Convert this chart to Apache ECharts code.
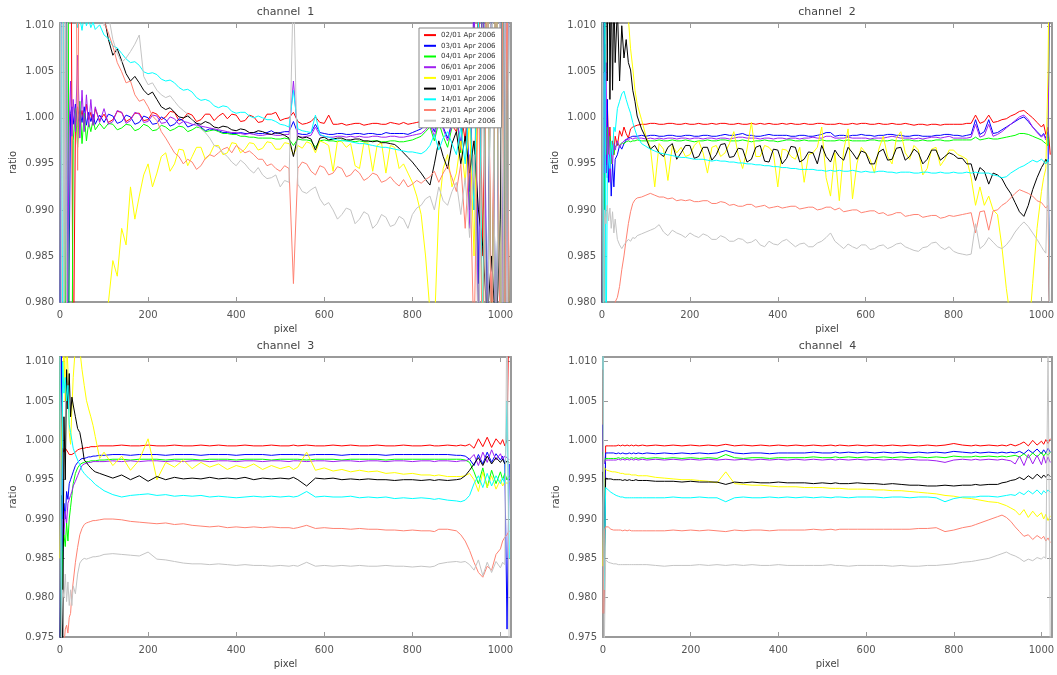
<!DOCTYPE html>
<html>
<head>
<meta charset="utf-8">
<script src="https://cdn.jsdelivr.net/npm/echarts/dist/echarts.min.js"></script>
<style>
html,body{margin:0;padding:0;background:#fff}
#chart{width:1057px;height:675px}
</style>
</head>
<body>
<div id="chart"></div>
<script>
// Detector pixel positions (finer sampling for the noisier channels 1 and 2)
const PIXEL_FINE = [0,3,6,9,12,15,18,21,24,27, 30,35,40,45,50,55,60,65,70,75,
  80,90,100,110,120,130,140,150,160,170, 180,190,200,210,220,230,240,250,260,270,
  280,290,300,310,320,330,340,350,360,370, 380,390,400,410,420,430,440,450,460,470,
  480,490,500,510,520,530,540,550,560,570, 580,590,600,610,620,630,640,650,660,670,
  680,690,700,710,720,730,740,750,760,770, 780,790,800,810,820,830,840,850,860,870,
  880,890,900,910,920,930,940,950,960,970, 980,990,1000,1005,1010,1015,1020];
const PIXEL = [0,3,6,9,12,15,18,21,24,27, 30,35,40,45,50,55,60,65,70,75,
  80,90,100,120,140,160,180,200,220,240, 260,280,300,320,340,360,380,400,420,440,
  460,480,500,520,530,540,560,580,600,620, 640,660,680,700,720,740,760,780,800,820,
  840,850,860,880,900,910,920,930,940,950, 960,970,980,990,1000,1005,1010,1015,1020];

const DATES = ['02/01 Apr 2006','03/01 Apr 2006','04/01 Apr 2006','06/01 Apr 2006',
  '09/01 Apr 2006','10/01 Apr 2006','14/01 Apr 2006','21/01 Apr 2006','28/01 Apr 2006'];

const CHANNEL_TITLES = ['channel  1','channel  2','channel  3','channel  4'];
const X_TICKS = [0,200,400,600,800,1000];
const Y_TICKS_TOP = [0.980,0.985,0.990,0.995,1.000,1.005,1.010];
const Y_TICKS_BOTTOM = [0.975,0.980,0.985,0.990,0.995,1.000,1.005,1.010];

// ---- channel 1 (sampled at PIXEL_FINE) ----
const c1_02 = [1.03,1.03,1.03,1.03,1.03,1.03,1.03,1.03,1.03,1.03,
 .97,.9995,1.0012,.9996,1.0008,.9993,1.0015,.9998,1.0006,.9992,
 1.0010,.9997,1.0004,.9995,.9998,1.0007,1.0006,.9996,.9999,1.0005,
 1.0005,.9997,.9998,1.0006,1.0004,.9998,1.0001,1.0007,1.0006,.9997,
 .9999,1.0005,1.0003,.9996,.9998,1.0004,1.0004,.9997,1.0002,1.0005,
 .9999,1.0004,1.0003,.9996,.9997,1.0003,1.0001,.9995,.9996,1.0004,
 1.0004,1.0006,.9997,.9999,1.0000,1.0006,.9996,.9993,.9994,.9996,
 1.0001,.9995,.9994,1.0003,.9993,.9993,.9994,.9992,.9993,.9994,
 .9994,.9992,.9993,.9994,.9994,.9993,.9993,.9995,.9994,.9993,
 .9995,.9993,.9994,.9995,.9996,.9995,.9998,1.0001,.9996,.9999,
 1.0005,.9992,.9985,1.0008,.9975,1.004,.990,1.015,.985,1.02,
 .975,1.02,.97,1.02,.97,1.03,.97];
const c1_03 = [.97,1.03,1.03,1.03,1.03,1.03,.97,.97,1.0005,1.0012,
 .9993,1.0015,.9990,1.0008,.9995,1.0012,.9992,1.0006,.9996,1.0004,
 .9993,1.0003,.9995,1.0004,1.0002,.9994,.9996,1.0003,1.0001,.9993,
 .9995,1.0002,1.0000,.9993,.9994,1.0001,.9998,.9991,.9993,.9999,
 .9997,.9990,.9992,.9994,.9990,.9986,.9988,.9987,.9986,.9984,
 .9984,.9983,.9983,.9984,.9983,.9983,.9984,.9983,.9983,.9984,
 .9986,.9983,.9984,.9985,.9985,.9996,.9983,.9982,.9982,.9984,
 .9993,.9984,.9983,.9982,.9982,.9983,.9983,.9982,.9982,.9983,
 .9983,.9982,.9983,.9983,.9982,.9982,.9984,.9983,.9983,.9983,
 .9983,.9982,.9984,.9986,.9988,.9992,.9996,.9985,1.0002,.9990,
 .9978,.9995,1.0004,.9970,1.006,.992,1.012,.982,1.02,.975,
 1.02,.97,1.02,.97,1.02,.97,1.03];
const c1_04 = [1.03,1.03,1.03,1.03,.97,.97,1.03,.97,.97,.97,
 .9975,1.0010,.9968,1.0018,.9972,1.0005,.9975,.9995,.9985,.9998,
 .9987,.9994,.9988,.9994,.9993,.9987,.9989,.9993,.9992,.9986,
 .9988,.9993,.9991,.9986,.9987,.9992,.9990,.9986,.9988,.9991,
 .9990,.9985,.9987,.9990,.9989,.9985,.9986,.9987,.9985,.9983,
 .9983,.9982,.9982,.9980,.9980,.9979,.9979,.9978,.9978,.9978,
 .9978,.9977,.9977,.9978,.9977,.9970,.9977,.9976,.9976,.9975,
 .9968,.9975,.9976,.9975,.9975,.9974,.9976,.9975,.9975,.9974,
 .9975,.9974,.9974,.9975,.9975,.9974,.9974,.9975,.9975,.9974,
 .9974,.9975,.9976,.9978,.9980,.9985,.9990,.9975,.9995,.9980,
 .9968,.9990,1.0002,.9962,1.003,.990,1.01,.975,1.02,.97,
 1.02,.97,1.02,.97,1.02,.97,1.02];
const c1_06 = [1.03,1.03,1.03,1.03,1.03,.97,.97,.999,1.004,.998,
 1.002,.9985,1.0068,.9978,1.0030,.9985,1.0025,.9990,1.0020,.9992,
 1.0012,.9995,1.0010,.9993,.9996,1.0008,1.0006,.9994,.9997,1.0006,
 1.0004,.9995,.9996,1.0003,1.0002,.9994,.9995,1.0001,.9999,.9993,
 .9996,.9995,.9993,.9992,.9991,.9990,.9989,.9988,.9987,.9986,
 .9985,.9984,.9984,.9983,.9982,.9983,.9982,.9981,.9981,.9982,
 .9982,.9981,.9981,.9982,.9982,1.0040,.9980,.9979,.9980,.9981,
 .9990,.9981,.9980,.9979,.9979,.9980,.9980,.9979,.9980,.9979,
 .9980,.9979,.9979,.9980,.9980,.9979,.9979,.9980,.9980,.9979,
 .9979,.9980,.9981,.9982,.9983,.9987,.9993,.9980,1.0000,.9988,
 .9975,.9992,1.0006,.9965,1.005,.988,1.015,.975,1.02,.97,
 1.02,.97,1.02,.975,1.02,.97,1.02];
const c1_09 = [.975,.975,.975,.975,.975,.975,.975,.975,.975,.975,
 .975,.975,.975,.975,.975,.975,.975,.975,.975,.975,
 .975,.975,.9785,.9800,.9845,.9828,.9880,.9862,.9925,.9890,
 .9915,.9938,.9950,.9925,.9940,.9958,.9962,.9942,.9950,.9966,
 .9965,.9948,.9958,.9968,.9968,.9955,.9960,.9970,.9970,.9960,
 .9962,.9973,.9972,.9962,.9966,.9973,.9972,.9965,.9967,.9974,
 .9973,.9966,.9966,.9973,.9972,.9960,.9970,.9967,.9974,.9972,
 .9962,.9975,.9973,.9970,.9942,.9975,.9974,.9968,.9972,.9948,
 .9945,.9973,.9972,.9942,.9970,.9973,.9940,.9970,.9968,.9945,
 .9950,.9940,.9930,.9915,.9895,.9850,.9790,.9770,.9900,.9945,
 .9960,.9925,.9940,.9975,.9930,1.000,.985,1.008,.975,1.02,
 .97,1.02,.97,1.02,.97,1.02,.97];
const c1_10 = [1.03,1.03,1.03,1.03,1.03,1.03,1.03,1.03,1.03,1.03,
 1.03,1.03,1.03,1.03,1.03,1.03,1.03,1.03,1.03,1.03,
 1.03,1.03,1.0110,1.0085,1.0068,1.0075,1.0062,1.0048,1.0040,1.0045,
 1.0038,1.0030,1.0025,1.0028,1.0020,1.0012,1.0009,1.0011,1.0006,1.0001,
 1.0000,1.0002,.9998,.9994,.9993,.9996,.9994,.9990,.9989,.9991,
 .9990,.9987,.9986,.9988,.9987,.9984,.9984,.9986,.9985,.9983,
 .9982,.9984,.9983,.9981,.9978,.9958,.9980,.9978,.9979,.9977,
 .9965,.9978,.9979,.9976,.9977,.9978,.9978,.9976,.9976,.9977,
 .9977,.9975,.9975,.9974,.9975,.9973,.9973,.9972,.9971,.9967,
 .9962,.9957,.9952,.9946,.9940,.9933,.9927,.9950,.9975,.9958,
 .9945,.9972,.9985,.9950,.9980,.9940,.9975,.9900,.9860,.9780,
 .9850,.9760,.9890,1.02,.97,1.02,.97];
const c1_14 = [1.03,1.03,.97,1.03,1.03,1.03,1.03,1.03,1.03,1.03,
 1.03,1.0115,1.0098,1.0108,1.0095,1.0112,1.0100,1.0108,1.0098,1.0104,
 1.0096,1.0101,1.0090,1.0086,1.0078,1.0076,1.0070,1.0064,1.0060,1.0061,
 1.0057,1.0050,1.0048,1.0049,1.0047,1.0042,1.0040,1.0041,1.0038,1.0033,
 1.0030,1.0031,1.0028,1.0022,1.0019,1.0020,1.0018,1.0013,1.0011,1.0013,
 1.0012,1.0007,1.0005,1.0006,1.0006,1.0002,1.0000,1.0002,1.0000,.9998,
 .9998,.9996,.9993,.9992,.9990,1.0030,.9988,.9986,.9985,.9984,
 1.0003,.9982,.9980,.9979,.9977,.9976,.9975,.9975,.9974,.9973,
 .9972,.9972,.9971,.9970,.9969,.9968,.9968,.9967,.9966,.9965,
 .9964,.9963,.9963,.9962,.9961,.9964,.9970,.9982,.9965,.9978,
 .9985,.9972,.9960,.9990,.9950,1.0020,.9900,1.012,.975,1.02,
 .97,1.02,.97,1.02,.97,1.02,.97];
const c1_21 = [1.03,1.03,1.03,1.03,1.03,1.03,1.03,1.03,1.03,1.03,
 1.03,1.03,.9943,1.03,1.03,1.03,1.03,1.03,1.03,1.03,
 1.03,1.03,1.0105,1.0092,1.0078,1.0060,1.0050,1.0038,1.0040,1.0025,
 1.0018,1.0020,1.0012,1.0002,.9997,.9985,.9978,.9970,.9962,.9958,
 .9950,.9955,.9952,.9944,.9948,.9956,.9960,.9958,.9962,.9966,
 .9968,.9962,.9970,.9966,.9962,.9964,.9960,.9955,.9955,.9948,
 .9950,.9945,.9942,.9948,.9945,.9820,.9945,.9952,.9950,.9942,
 .9938,.9948,.9946,.9938,.9940,.9947,.9945,.9936,.9938,.9944,
 .9940,.9932,.9935,.9940,.9938,.9930,.9932,.9936,.9930,.9926,
 .9933,.9925,.9928,.9932,.9929,.9933,.9936,.9942,.9930,.9940,
 .9948,.9935,.9920,.9950,.9880,.9960,.975,1.005,.97,1.02,
 .97,1.02,.97,1.015,.97,1.02,.97];
const c1_28 = [1.03,.97,1.03,.97,1.03,.97,1.03,1.03,1.03,1.03,
 1.03,1.03,1.03,1.03,1.03,1.03,1.03,1.03,1.03,1.03,
 1.03,1.03,1.0100,1.0112,1.0085,1.0070,1.0060,1.0065,1.0072,1.0080,
 1.0090,1.0045,1.0036,1.0038,1.0030,1.0025,1.0022,1.0024,1.0018,1.0012,
 1.0008,1.0004,.9998,.9992,.9988,.9984,.9978,.9970,.9968,.9962,
 .9958,.9952,.9948,.9954,.9950,.9944,.9940,.9946,.9938,.9934,
 .9935,.9938,.9925,.9932,.9930,1.0150,.9928,.9920,.9918,.9922,
 .9925,.9912,.9905,.9908,.9900,.9890,.9895,.9902,.9900,.9885,
 .9890,.9898,.9895,.9880,.9885,.9895,.9892,.9882,.9884,.9893,
 .9890,.9880,.9895,.9902,.9905,.9912,.9915,.9900,.9925,.9910,
 .9905,.9920,.9930,.9895,.9935,.9870,.9960,.975,1.005,.97,
 1.02,.97,1.02,.97,1.02,.97,1.02];

// ---- channel 2 (sampled at PIXEL_FINE) ----
const c2_02 = [1.03,.97,1.005,.995,1.002,.9965,.9990,.9958,.9975,.9960,
 .9980,.9970,.9986,.9980,.9990,.9983,.9978,.9988,.9990,.9991,
 .9992,.9993,.9993,.9994,.9994,.9993,.9993,.9994,.9994,.9993,
 .9993,.9994,.9993,.9993,.9994,.9993,.9993,.9994,.9993,.9994,
 .9994,.9993,.9993,.9994,.9993,.9993,.9994,.9993,.9994,.9993,
 .9994,.9993,.9993,.9994,.9993,.9994,.9993,.9993,.9994,.9993,
 .9993,.9994,.9994,.9993,.9993,.9993,.9994,.9993,.9993,.9994,
 .9993,.9994,.9994,.9993,.9993,.9994,.9993,.9993,.9994,.9993,
 .9993,.9994,.9993,.9992,.9993,.9993,.9992,.9993,.9993,.9992,
 .9993,.9993,.9993,.9993,.9993,.9994,.9994,1.0003,.9994,.9996,
 1.0003,.9995,.9996,.9998,.9999,1.0002,1.0004,1.0007,1.0008,1.0004,
 1.0000,.9995,.9990,.9993,.9982,.9990,.9960];
const c2_03 = [1.03,.97,1.008,.994,1.002,.9930,.9960,.9915,.9950,.9925,
 .9955,.9960,.9970,.9966,.9972,.9976,.9978,.9979,.9980,.9980,
 .9980,.9981,.9980,.9981,.9981,.9980,.9980,.9981,.9981,.9980,
 .9980,.9981,.9981,.9980,.9980,.9981,.9981,.9980,.9980,.9981,
 .9982,.9981,.9981,.9982,.9983,.9981,.9981,.9980,.9980,.9981,
 .9982,.9981,.9981,.9981,.9981,.9980,.9980,.9981,.9981,.9980,
 .9980,.9981,.9982,.9984,.9984,.9980,.9981,.9981,.9980,.9981,
 .9981,.9982,.9981,.9981,.9980,.9981,.9981,.9982,.9982,.9981,
 .9981,.9980,.9980,.9981,.9981,.9980,.9980,.9980,.9981,.9981,
 .9982,.9982,.9981,.9981,.9980,.9981,.9982,.9998,.9982,.9985,
 .9998,.9983,.9984,.9987,.9990,.9993,.9996,.9999,1.0001,.9996,
 .9990,.9985,.9980,.9983,.9978,.9985,.97];
const c2_04 = [1.03,.97,1.004,.996,.9990,.9960,.9980,.9950,.9970,.9960,
 .9968,.9972,.9970,.9973,.9972,.9974,.9975,.9974,.9975,.9975,
 .9976,.9975,.9975,.9975,.9975,.9976,.9975,.9975,.9976,.9975,
 .9975,.9976,.9975,.9974,.9975,.9975,.9976,.9975,.9975,.9976,
 .9976,.9975,.9975,.9975,.9976,.9975,.9974,.9975,.9975,.9976,
 .9975,.9975,.9974,.9975,.9976,.9976,.9975,.9975,.9976,.9975,
 .9975,.9975,.9976,.9975,.9975,.9975,.9976,.9975,.9976,.9975,
 .9975,.9975,.9975,.9976,.9976,.9975,.9975,.9975,.9976,.9975,
 .9975,.9976,.9976,.9975,.9975,.9976,.9975,.9975,.9976,.9976,
 .9975,.9975,.9976,.9976,.9976,.9976,.9976,.9979,.9976,.9977,
 .9978,.9977,.9977,.9978,.9979,.9980,.9981,.9983,.9983,.9982,
 .9980,.9978,.9976,.9974,.9972,.9970,1.02];
const c2_06 = [.97,1.03,.994,1.006,.9935,.9990,.9930,.9965,.9950,.9972,
 .9965,.9975,.9968,.9972,.9975,.9977,.9976,.9978,.9977,.9978,
 .9978,.9978,.9977,.9978,.9977,.9978,.9977,.9978,.9978,.9977,
 .9978,.9978,.9977,.9978,.9978,.9977,.9978,.9978,.9977,.9978,
 .9978,.9977,.9978,.9979,.9979,.9978,.9978,.9978,.9977,.9978,
 .9978,.9977,.9978,.9978,.9977,.9978,.9978,.9977,.9978,.9978,
 .9979,.9978,.9978,.9980,.9980,.9978,.9978,.9978,.9979,.9978,
 .9978,.9978,.9978,.9977,.9978,.9978,.9978,.9979,.9980,.9979,
 .9978,.9978,.9978,.9977,.9978,.9977,.9978,.9979,.9979,.9978,
 .9979,.9980,.9978,.9978,.9978,.9978,.9979,.9993,.9979,.9981,
 .9993,.9980,.9982,.9985,.9989,.9993,.9997,1.0001,1.0003,.9998,
 .9990,.9984,.9979,.9982,.9976,.9980,1.02];
const c2_09 = [1.03,1.03,1.03,1.03,1.03,1.03,1.03,1.03,1.03,1.03,
 1.03,1.03,1.03,1.03,1.0150,1.0120,1.0108,1.0075,1.0054,1.0030,
 1.0015,.9998,.9980,.9968,.9925,.9972,.9966,.9932,.9970,.9962,
 .9968,.9958,.9960,.9970,.9975,.9962,.9940,.9968,.9970,.9958,
 .9962,.9972,.9985,.9960,.9945,.9966,.9995,.9958,.9958,.9970,
 .9968,.9962,.9925,.9966,.9965,.9958,.9955,.9968,.9930,.9960,
 .9962,.9968,.9990,.9935,.9915,.9962,.9910,.9965,.9988,.9912,
 .9950,.9968,.9962,.9955,.9940,.9966,.9980,.9958,.9950,.9978,
 .9985,.9962,.9955,.9970,.9965,.9938,.9945,.9966,.9968,.9948,
 .9955,.9965,.9965,.9960,.9958,.9955,.9935,.9905,.9925,.9905,
 .9915,.9900,.9895,.9860,.9815,.9780,.975,.97,.97,.9760,
 .9820,.9880,.9920,.9935,.9945,1.005,1.03];
const c2_10 = [.97,1.03,1.005,1.03,1.004,1.03,1.002,1.015,1.003,1.014,
 1.006,1.012,1.004,1.010,1.0065,1.0085,1.0060,1.0052,1.0030,1.0018,
 1.0002,.9988,.9978,.9966,.9970,.9962,.9958,.9968,.9972,.9955,
 .9962,.9970,.9970,.9956,.9958,.9968,.9968,.9954,.9960,.9971,
 .9972,.9957,.9958,.9967,.9966,.9952,.9955,.9968,.9970,.9953,
 .9952,.9966,.9965,.9950,.9956,.9969,.9968,.9952,.9955,.9963,
 .9962,.9950,.9970,.9958,.9952,.9965,.9958,.9954,.9968,.9962,
 .9955,.9964,.9962,.9950,.9950,.9963,.9966,.9954,.9955,.9967,
 .9968,.9954,.9958,.9966,.9962,.9950,.9955,.9965,.9965,.9954,
 .9958,.9962,.9960,.9956,.9956,.9950,.9950,.9932,.9946,.9942,
 .9928,.9940,.9938,.9934,.9925,.9918,.9908,.9898,.9893,.9905,
 .9922,.9935,.9946,.9950,.9955,.9950,.97];
const c2_14 = [1.03,.97,1.03,.97,.9935,.9960,.9945,.9975,.9960,.9990,
 .9985,1.0010,1.0018,1.0026,1.0029,1.0020,1.0012,1.0005,.9995,.9987,
 .9980,.9972,.9969,.9966,.9964,.9962,.9961,.9960,.9959,.9958,
 .9957,.9957,.9956,.9955,.9955,.9955,.9954,.9953,.9954,.9953,
 .9953,.9952,.9952,.9951,.9951,.9950,.9950,.9949,.9949,.9948,
 .9948,.9947,.9947,.9946,.9946,.9945,.9945,.9944,.9944,.9944,
 .9944,.9943,.9943,.9942,.9943,.9942,.9943,.9942,.9942,.9943,
 .9942,.9941,.9942,.9941,.9941,.9942,.9942,.9941,.9941,.9940,
 .9941,.9941,.9941,.9940,.9940,.9941,.9941,.9940,.9940,.9941,
 .9940,.9940,.9941,.9940,.9940,.9941,.9940,.9941,.9940,.9940,
 .9940,.9938,.9937,.9935,.9936,.9940,.9943,.9946,.9948,.9951,
 .9954,.9952,.9955,.9953,.9950,.9955,.97];
const c2_21 = [.97,.97,.97,.97,.97,.97,.97,.9760,.9790,.9770,
 .9800,.9805,.9817,.9835,.9850,.9868,.9885,.9898,.9907,.9911,
 .9913,.9914,.9916,.9918,.9916,.9914,.9914,.9912,.9913,.9910,
 .9911,.9910,.9911,.9909,.9909,.9910,.9910,.9907,.9907,.9909,
 .9908,.9905,.9906,.9904,.9904,.9906,.9906,.9903,.9904,.9905,
 .9902,.9903,.9904,.9902,.9903,.9904,.9904,.9901,.9902,.9903,
 .9903,.9900,.9901,.9903,.9903,.9900,.9902,.9898,.9899,.9900,
 .9900,.9897,.9898,.9899,.9899,.9896,.9897,.9894,.9895,.9897,
 .9897,.9893,.9894,.9895,.9895,.9892,.9893,.9894,.9894,.9891,
 .9892,.9894,.9893,.9894,.9895,.9896,.9897,.9875,.9898,.9899,
 .9878,.9899,.9900,.9905,.9908,.9913,.9918,.9922,.9920,.9918,
 .9915,.9910,.9908,.9905,.9902,.9905,.97];
const c2_28 = [1.03,.97,.9900,.9885,.9905,.9888,.9902,.9880,.9898,.9875,
 .9890,.9868,.9862,.9858,.9862,.9865,.9868,.9866,.9870,.9869,
 .9872,.9874,.9876,.9878,.9880,.9884,.9876,.9872,.9878,.9875,
 .9873,.9870,.9875,.9872,.9870,.9874,.9872,.9868,.9868,.9872,
 .9870,.9866,.9866,.9869,.9868,.9864,.9865,.9868,.9862,.9860,
 .9866,.9863,.9862,.9866,.9868,.9864,.9860,.9863,.9864,.9860,
 .9860,.9864,.9866,.9870,.9875,.9866,.9862,.9858,.9863,.9860,
 .9858,.9862,.9862,.9857,.9858,.9861,.9862,.9858,.9860,.9863,
 .9864,.9860,.9858,.9856,.9855,.9859,.9860,.9864,.9865,.9860,
 .9857,.9860,.9855,.9853,.9852,.9851,.9852,.9885,.9858,.9862,
 .9870,.9865,.9860,.9858,.9862,.9868,.9876,.9882,.9887,.9882,
 .9875,.9868,.9860,.9856,.9853,.9952,.975];

// ---- channel 3 (sampled at PIXEL) ----
const c3_02 = [1.012,.9950,.9990,.9985,.9990,.9988,.9985,.9982,.9980,.9982,
 .9981,.9985,.9988,.9989,.9990,.9990,.9991,.9991,.9992,.9992,
 .9992,.9993,.9993,.9993,.9994,.9993,.9993,.9994,.9993,.9993,
 .9994,.9993,.9993,.9994,.9993,.9994,.9993,.9993,.9994,.9993,
 .9993,.9994,.9993,.9993,.9994,.9993,.9994,.9993,.9993,.9994,
 .9993,.9994,.9993,.9993,.9994,.9993,.9993,.9994,.9993,.9993,
 .9994,.9993,.9993,.9994,.9993,.9994,.9993,.9995,.9990,1.0002,
 .9992,1.0004,.9991,1.0002,.9995,1.0001,.9993,1.0000,1.02];
const c3_03 = [.97,1.012,.985,.992,.990,.9935,.9925,.9945,.9950,.9955,
 .9960,.9968,.9972,.9975,.9977,.9977,.9978,.9979,.9979,.9980,
 .9980,.9981,.9981,.9982,.9982,.9981,.9982,.9982,.9982,.9981,
 .9982,.9982,.9982,.9981,.9982,.9982,.9982,.9981,.9982,.9982,
 .9982,.9981,.9982,.9982,.9982,.9982,.9981,.9982,.9982,.9982,
 .9981,.9982,.9982,.9982,.9982,.9981,.9982,.9982,.9982,.9982,
 .9982,.9982,.9982,.9982,.9981,.9981,.9980,.9976,.9968,.9982,
 .9970,.9985,.9972,.9983,.9975,.9980,.9970,.9760,.9970];
const c3_04 = [1.012,.975,.9860,.9880,.9865,.9895,.9872,.9900,.9915,.9930,
 .9945,.9958,.9965,.9969,.9971,.9972,.9973,.9973,.9974,.9974,
 .9974,.9975,.9975,.9976,.9976,.9975,.9976,.9976,.9976,.9975,
 .9976,.9976,.9976,.9975,.9976,.9976,.9976,.9975,.9976,.9976,
 .9976,.9975,.9976,.9976,.9976,.9976,.9975,.9976,.9976,.9976,
 .9975,.9976,.9976,.9976,.9976,.9975,.9976,.9976,.9976,.9976,
 .9976,.9976,.9976,.9976,.9976,.9976,.9975,.9972,.9960,.9945,
 .9965,.9940,.9962,.9945,.9960,.9950,.9958,.9950,.9955];
const c3_06 = [1.02,.9850,.9900,.9880,.9910,.9895,.9920,.9918,.9930,.9935,
 .9942,.9948,.9955,.9962,.9968,.9970,.9971,.9972,.9972,.9973,
 .9973,.9973,.9973,.9974,.9973,.9974,.9973,.9974,.9974,.9973,
 .9974,.9973,.9974,.9974,.9973,.9974,.9974,.9973,.9974,.9974,
 .9973,.9974,.9974,.9973,.9974,.9974,.9973,.9974,.9974,.9973,
 .9974,.9974,.9973,.9974,.9974,.9973,.9974,.9974,.9973,.9974,
 .9974,.9973,.9974,.9974,.9973,.9974,.9974,.9976,.9982,.9968,
 .9985,.9972,.9988,.9975,.9983,.9976,.9980,.9978,.9975];
const c3_09 = [.9850,.9980,1.0080,1.0120,1.0050,1.0130,1.0090,1.0010,.9995,1.0040,
 1.0080,1.0120,1.0130,1.0115,1.0090,1.0070,1.0051,1.0040,1.0030,1.0019,
 1.0005,.9977,.9985,.9968,.9980,.9962,.9975,1.0002,.9950,.9972,
 .9966,.9975,.9964,.9972,.9966,.9970,.9963,.9968,.9965,.9970,
 .9963,.9968,.9964,.9967,.9963,.9966,.9985,.9962,.9965,.9961,
 .9963,.9960,.9962,.9960,.9961,.9958,.9959,.9957,.9958,.9956,
 .9956,.9955,.9956,.9954,.9954,.9954,.9955,.9958,.9950,.9935,
 .9960,.9940,.9955,.9938,.9950,.9942,.9948,.9945,.9948];
const c3_10 = [.970,.9930,.970,1.0030,.9950,1.0090,1.0040,1.0085,1.0030,1.0055,
 1.0045,1.0030,1.0015,1.0010,.9995,.9975,.9972,.9968,.9965,.9962,
 .9960,.9958,.9956,.9952,.9956,.9950,.9955,.9948,.9954,.9950,
 .9953,.9951,.9952,.9951,.9953,.9951,.9952,.9951,.9953,.9950,
 .9952,.9951,.9952,.9951,.9953,.9950,.9942,.9952,.9951,.9952,
 .9950,.9951,.9950,.9951,.9950,.9950,.9949,.9950,.9950,.9949,
 .9950,.9949,.9950,.9949,.9950,.9951,.9955,.9962,.9970,.9978,
 .9968,.9980,.9970,.9978,.9972,.9976,.9970,.9974,.9972];
const c3_14 = [1.012,.975,1.010,1.0060,1.0080,1.0050,1.0070,1.0020,1.0010,1.0000,
 .9990,.9982,.9975,.9969,.9962,.9958,.9955,.9952,.9950,.9947,
 .9944,.9940,.9936,.9931,.9928,.9930,.9931,.9932,.9930,.9931,
 .9929,.9930,.9929,.9930,.9928,.9929,.9928,.9927,.9928,.9929,
 .9928,.9929,.9928,.9929,.9928,.9929,.9935,.9928,.9929,.9928,
 .9928,.9929,.9927,.9928,.9927,.9928,.9926,.9927,.9926,.9927,
 .9926,.9925,.9926,.9924,.9923,.9922,.9924,.9930,.9945,.9955,
 .9940,.9958,.9942,.9955,.9945,.9952,.9945,1.005,.985];
const c3_21 = [.970,.970,.972,.974,.976,.9765,.9755,.9775,.9780,.9805,
 .9820,.9845,.9864,.9880,.9888,.9893,.9895,.9896,.9897,.9898,
 .9898,.9899,.9900,.9900,.9899,.9897,.9896,.9895,.9894,.9895,
 .9893,.9894,.9892,.9891,.9890,.9891,.9889,.9890,.9889,.9890,
 .9889,.9890,.9889,.9889,.9888,.9889,.9892,.9888,.9889,.9888,
 .9888,.9887,.9888,.9887,.9887,.9886,.9886,.9885,.9886,.9885,
 .9885,.9884,.9887,.9887,.9885,.9880,.9872,.9860,.9845,.9832,
 .9826,.9840,.9835,.9855,.9862,.9872,.9877,.9880,.9885];
const c3_28 = [1.012,.975,.9810,.9800,.9830,.9795,.9820,.9790,.9810,.9790,
 .9815,.9805,.9830,.9844,.9848,.9850,.9849,.9850,.9851,.9852,
 .9852,.9853,.9855,.9856,.9855,.9854,.9853,.9858,.9849,.9848,
 .9846,.9844,.9843,.9843,.9842,.9843,.9842,.9841,.9842,.9841,
 .9841,.9840,.9841,.9840,.9841,.9840,.9845,.9840,.9841,.9840,
 .9841,.9840,.9841,.9840,.9840,.9841,.9840,.9840,.9839,.9840,
 .9839,.9840,.9843,.9845,.9846,.9845,.9846,.9842,.9835,.9848,
 .9828,.9845,.9832,.9846,.9838,.9845,.9842,1.02,.97];

// ---- channel 4 (sampled at PIXEL) ----
const c4_02 = [1.009,.978,.9993,.9994,.9993,.9994,.9993,.9994,.9993,.9994,
 .9993,.9994,.9993,.9994,.9993,.9994,.9993,.9994,.9993,.9994,
 .9993,.9994,.9993,.9994,.9993,.9994,.9993,.9994,.9993,.9994,
 .9993,.9995,.9993,.9994,.9993,.9994,.9993,.9994,.9993,.9994,
 .9993,.9994,.9993,.9994,.9993,.9994,.9993,.9994,.9993,.9994,
 .9993,.9994,.9993,.9994,.9993,.9994,.9993,.9994,.9996,.9994,
 .9993,.9994,.9993,.9994,.9993,.9994,.9993,.9995,.9993,.9995,
 .9998,.9993,1.0000,.9994,.9999,.9995,1.0001,.9996,1.0002];
const c4_03 = [1.002,.986,.9984,.9983,.9984,.9983,.9984,.9983,.9984,.9983,
 .9983,.9984,.9983,.9984,.9983,.9983,.9984,.9983,.9984,.9983,
 .9984,.9983,.9984,.9983,.9984,.9983,.9984,.9983,.9984,.9983,
 .9984,.9987,.9984,.9983,.9984,.9984,.9983,.9984,.9984,.9984,
 .9984,.9985,.9984,.9984,.9985,.9984,.9985,.9984,.9985,.9984,
 .9985,.9984,.9985,.9984,.9985,.9984,.9985,.9984,.9986,.9985,
 .9984,.9985,.9984,.9985,.9984,.9985,.9984,.9985,.9984,.9986,
 .9983,.9988,.9984,.9989,.9983,.9988,.9984,.9990,.9985];
const c4_04 = [.9985,.9970,.9977,.9978,.9977,.9978,.9977,.9978,.9977,.9978,
 .9977,.9978,.9977,.9978,.9977,.9978,.9977,.9978,.9977,.9978,
 .9977,.9978,.9977,.9978,.9977,.9978,.9977,.9978,.9977,.9978,
 .9977,.9982,.9978,.9977,.9978,.9978,.9977,.9978,.9978,.9978,
 .9978,.9979,.9978,.9978,.9979,.9978,.9979,.9978,.9979,.9978,
 .9979,.9978,.9979,.9978,.9979,.9978,.9979,.9978,.9980,.9979,
 .9979,.9980,.9979,.9980,.9979,.9980,.9979,.9980,.9981,.9979,
 .9983,.9978,.9984,.9979,.9985,.9980,.9984,.9981,.9985];
const c4_06 = [.9990,.9970,.9975,.9976,.9975,.9976,.9975,.9976,.9975,.9976,
 .9975,.9976,.9975,.9976,.9975,.9976,.9975,.9976,.9975,.9976,
 .9975,.9976,.9975,.9976,.9975,.9976,.9975,.9976,.9975,.9976,
 .9975,.9976,.9975,.9976,.9975,.9976,.9975,.9976,.9975,.9976,
 .9975,.9976,.9975,.9976,.9975,.9976,.9975,.9976,.9975,.9976,
 .9975,.9976,.9975,.9976,.9975,.9975,.9974,.9972,.9975,.9976,
 .9975,.9976,.9975,.9976,.9975,.9976,.9975,.9974,.9970,.9980,
 .9968,.9982,.9970,.9981,.9969,.9980,.9971,.9979,.9972];
const c4_09 = [.984,.9965,.9963,.9962,.9962,.9961,.9961,.9960,.9960,.9960,
 .9959,.9959,.9958,.9958,.9957,.9957,.9957,.9956,.9956,.9956,
 .9955,.9955,.9955,.9953,.9952,.9951,.9950,.9950,.9949,.9948,
 .9946,.9960,.9945,.9944,.9943,.9943,.9942,.9941,.9941,.9941,
 .9940,.9940,.9940,.9939,.9939,.9939,.9938,.9938,.9938,.9937,
 .9937,.9936,.9936,.9935,.9934,.9933,.9932,.9930,.9929,.9927,
 .9926,.9925,.9924,.9922,.9921,.9919,.9917,.9914,.9911,.9905,
 .9912,.9902,.9910,.9903,.9908,.9900,.9906,.9898,.9904];
const c4_10 = [.996,.985,.9952,.9951,.9951,.9950,.9951,.9950,.9950,.9951,
 .9950,.9950,.9950,.9949,.9950,.9949,.9950,.9949,.9949,.9950,
 .9949,.9949,.9949,.9948,.9948,.9948,.9947,.9948,.9947,.9947,
 .9947,.9944,.9947,.9946,.9947,.9946,.9946,.9947,.9946,.9946,
 .9946,.9945,.9946,.9945,.9946,.9945,.9945,.9946,.9945,.9945,
 .9944,.9945,.9944,.9943,.9943,.9942,.9942,.9943,.9942,.9943,
 .9943,.9944,.9943,.9944,.9944,.9946,.9947,.9949,.9950,.9953,
 .9950,.9955,.9951,.9957,.9952,.9956,.9953,.9957,.9954];
const c4_14 = [1.012,.981,.9940,.9938,.9937,.9935,.9934,.9933,.9932,.9931,
 .9930,.9929,.9928,.9928,.9927,.9927,.9927,.9927,.9927,.9927,
 .9927,.9927,.9927,.9927,.9927,.9928,.9927,.9927,.9928,.9927,
 .9927,.9922,.9927,.9928,.9927,.9927,.9928,.9927,.9928,.9927,
 .9928,.9927,.9928,.9927,.9928,.9928,.9927,.9928,.9928,.9928,
 .9927,.9928,.9928,.9927,.9928,.9928,.9927,.9922,.9926,.9928,
 .9928,.9928,.9929,.9929,.9928,.9929,.9930,.9931,.9930,.9934,
 .9931,.9936,.9932,.9937,.9931,.9936,.9933,.9937,.9934];
const c4_21 = [.978,.9885,.9890,.9892,.9890,.9888,.9887,.9887,.9886,.9886,
 .9886,.9886,.9886,.9885,.9886,.9885,.9886,.9885,.9885,.9885,
 .9885,.9885,.9885,.9885,.9885,.9886,.9885,.9886,.9885,.9886,
 .9885,.9884,.9886,.9885,.9886,.9886,.9885,.9886,.9886,.9886,
 .9886,.9887,.9886,.9887,.9886,.9887,.9887,.9887,.9887,.9887,
 .9887,.9887,.9887,.9887,.9888,.9888,.9889,.9884,.9886,.9889,
 .9891,.9893,.9895,.9899,.9903,.9905,.9902,.9897,.9890,.9884,
 .9878,.9880,.9874,.9879,.9875,.9878,.9872,.9876,.9870];
const c4_28 = [1.012,.974,.9848,.9846,.9845,.9844,.9844,.9843,.9843,.9843,
 .9843,.9842,.9842,.9842,.9842,.9842,.9842,.9842,.9842,.9842,
 .9842,.9842,.9842,.9841,.9840,.9841,.9841,.9841,.9842,.9841,
 .9842,.9841,.9842,.9841,.9842,.9841,.9841,.9842,.9841,.9841,
 .9841,.9841,.9841,.9842,.9841,.9841,.9840,.9841,.9841,.9841,
 .9841,.9840,.9841,.9840,.9840,.9841,.9841,.9842,.9843,.9845,
 .9846,.9847,.9848,.9850,.9854,.9856,.9858,.9855,.9853,.9850,
 .9846,.9849,.9847,.9851,.9849,.9852,.9850,1.012,.974];

const CHANNEL_DATA = [
  [c1_02, c1_03, c1_04, c1_06, c1_09, c1_10, c1_14, c1_21, c1_28],
  [c2_02, c2_03, c2_04, c2_06, c2_09, c2_10, c2_14, c2_21, c2_28],
  [c3_02, c3_03, c3_04, c3_06, c3_09, c3_10, c3_14, c3_21, c3_28],
  [c4_02, c4_03, c4_04, c4_06, c4_09, c4_10, c4_14, c4_21, c4_28]
];
const CHANNEL_PIXELS = [PIXEL_FINE, PIXEL_FINE, PIXEL, PIXEL];

// line colours, one per date
const COLORS = ['#ff0000','#0000ff','#00ff00','#a020f0','#ffff00','#000000','#00ffff','#ff8272','#c4c4c4'];

// panel boxes and value ranges
const PANELS = [
  {left: 60,  top: 23,  width: 451, height: 279, ymin: 0.980, ymax: 1.0103, ticks: Y_TICKS_TOP},
  {left: 602, top: 23,  width: 450, height: 279, ymin: 0.980, ymax: 1.0103, ticks: Y_TICKS_TOP},
  {left: 60,  top: 357, width: 451, height: 280, ymin: 0.975, ymax: 1.0106, ticks: Y_TICKS_BOTTOM},
  {left: 603, top: 357, width: 449, height: 280, ymin: 0.975, ymax: 1.0106, ticks: Y_TICKS_BOTTOM}
];

const AXIS_GRAY = '#9a9a9a';
const FONT = 'DejaVu Sans';

function onTick(v, list) {
  return list.some(t => Math.abs(t - v) < 1e-7);
}

const grids = [], xAxes = [], yAxes = [], series = [], graphics = [];

PANELS.forEach((p, i) => {
  grids.push({left: p.left, top: p.top, width: p.width, height: p.height,
              outerBoundsMode: 'none', containLabel: false});
  const lineStyle = {color: AXIS_GRAY, width: 2};
  const tick = {show: true, inside: true, length: 5, lineStyle: {color: AXIS_GRAY, width: 1}};
  const xBase = {type: 'value', gridIndex: i, min: 0, max: 1024, interval: 200,
    splitLine: {show: false}, axisLine: {show: true, onZero: false, lineStyle}, axisTick: tick};
  xAxes.push(Object.assign({}, xBase, {
    position: 'bottom', name: 'pixel', nameLocation: 'middle', nameGap: 22,
    nameTextStyle: {color: '#444', fontSize: 10, fontFamily: FONT},
    axisLabel: {color: '#555', fontSize: 10, fontFamily: FONT, margin: 8,
      formatter: v => onTick(v, X_TICKS) ? String(v) : ''}
  }));
  xAxes.push(Object.assign({}, xBase, {position: 'top', axisLabel: {show: false}}));
  const yBase = {type: 'value', gridIndex: i, min: p.ymin, max: p.ymax, interval: 0.005,
    splitLine: {show: false}, axisLine: {show: true, onZero: false, lineStyle}, axisTick: tick};
  yAxes.push(Object.assign({}, yBase, {
    position: 'left', name: 'ratio', nameLocation: 'middle', nameGap: 42, nameRotate: 90,
    nameTextStyle: {color: '#444', fontSize: 10, fontFamily: FONT},
    axisLabel: {color: '#555', fontSize: 10, fontFamily: FONT, margin: 6,
      formatter: v => onTick(v, p.ticks) ? v.toFixed(3) : ''}
  }));
  yAxes.push(Object.assign({}, yBase, {position: 'right', axisLabel: {show: false}}));

  const xs = CHANNEL_PIXELS[i];
  CHANNEL_DATA[i].forEach((vals, k) => {
    series.push({
      type: 'line', name: DATES[k], xAxisIndex: 2 * i, yAxisIndex: 2 * i,
      data: xs.map((x, j) => [x, vals[j]]),
      showSymbol: false, symbol: 'none', clip: true, silent: true,
      lineStyle: {width: 1, color: COLORS[k]}, itemStyle: {color: COLORS[k]},
      emphasis: {disabled: true}, z: 2
    });
  });

  graphics.push({type: 'text', x: p.left + p.width / 2, y: p.top - 11,
    style: {text: CHANNEL_TITLES[i], textAlign: 'center', textVerticalAlign: 'middle',
            fill: '#444', font: '11px "' + FONT + '"'}});
});

const chart = echarts.init(document.getElementById('chart'), null, {renderer: 'canvas'});
chart.setOption({
  animation: false,
  backgroundColor: '#ffffff',
  grid: grids,
  xAxis: xAxes,
  yAxis: yAxes,
  series: series,
  graphic: graphics,
  legend: {
    data: DATES, orient: 'vertical', left: 419, top: 28,
    icon: 'rect', itemWidth: 12, itemHeight: 2, itemGap: 2.5,
    padding: [3, 6, 3, 5], borderColor: '#888', borderWidth: 1, backgroundColor: '#ffffff',
    textStyle: {fontSize: 7, lineHeight: 8.2, color: '#333', fontFamily: FONT},
    selectedMode: false, z: 10
  }
});
</script>
</body>
</html>
